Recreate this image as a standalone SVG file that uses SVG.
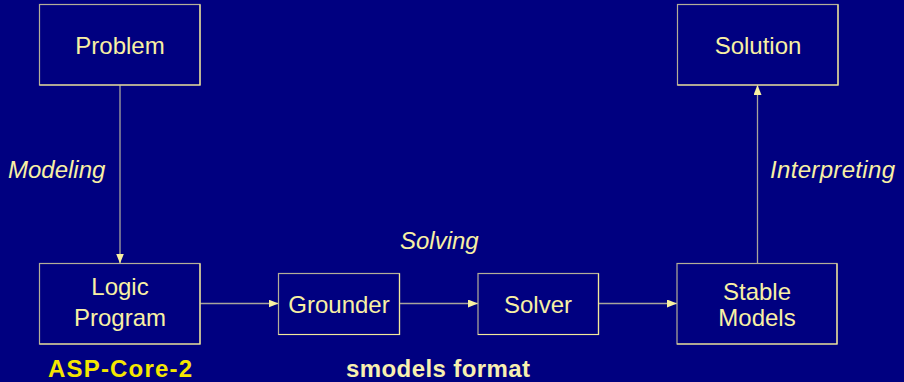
<svg xmlns="http://www.w3.org/2000/svg" width="904" height="382" viewBox="0 0 904 382">
  <style>
    .bg { fill: #000080; }
    .box { fill: none; stroke: #b4ae98; stroke-width: 1.2; }
    .hl { fill: none; stroke: #f2e89a; stroke-width: 1.2; }
    .t { font-family: "Liberation Sans", "DejaVu Sans", sans-serif; font-size: 24px; fill: #f8f0a4; text-anchor: middle; }
    .it { font-family: "Liberation Sans", "DejaVu Sans", sans-serif; font-size: 24px; font-style: italic; fill: #f8f0a4; }
    .lbl { font-family: "Liberation Sans", "DejaVu Sans", sans-serif; font-size: 24px; font-weight: bold; text-anchor: middle; }
    .edge { stroke: #a8a49c; stroke-width: 1.3; fill: none; marker-end: url(#ah); }
  </style>
  <defs>
    <marker id="ah" viewBox="0 0 10 8" refX="10" refY="4" markerWidth="10" markerHeight="8" markerUnits="userSpaceOnUse" orient="auto">
      <path d="M0,0 L10,4 L0,8 Z" fill="#f8f0a0"/>
    </marker>
  </defs>
  <rect class="bg" x="0" y="0" width="904" height="382"/>

  <g id="connectors">
    <line class="edge" x1="120" y1="85" x2="120" y2="263.5"/>
    <line class="edge" x1="200" y1="303.5" x2="278.5" y2="303.5"/>
    <line class="edge" x1="399.5" y1="303.5" x2="478" y2="303.5"/>
    <line class="edge" x1="598.5" y1="303.5" x2="677" y2="303.5"/>
    <line class="edge" x1="757.5" y1="263.5" x2="757.5" y2="85"/>
  </g>

  <g id="problem">
    <rect class="box" x="39.5" y="4.5" width="160.5" height="80.5"/>
    <path class="hl" d="M200,4.5 V85 H39.5"/>
    <text class="t" x="120" y="54">Problem</text>
  </g>
  <g id="logic-program">
    <rect class="box" x="39.5" y="263.5" width="160.5" height="80.5"/>
    <path class="hl" d="M200,263.5 V344 H39.5"/>
    <text class="t" x="120" y="295">Logic</text>
    <text class="t" x="120" y="326">Program</text>
  </g>
  <g id="grounder">
    <rect class="box" x="278.5" y="273.5" width="121" height="61"/>
    <path class="hl" d="M399.5,273.5 V334.5 H278.5"/>
    <text class="t" x="339" y="313">Grounder</text>
  </g>
  <g id="solver">
    <rect class="box" x="478" y="273.5" width="120.5" height="61"/>
    <path class="hl" d="M598.5,273.5 V334.5 H478"/>
    <text class="t" x="538" y="313">Solver</text>
  </g>
  <g id="stable-models">
    <rect class="box" x="677" y="263.5" width="160" height="80.5"/>
    <path class="hl" d="M837,263.5 V344 H677"/>
    <text class="t" x="757" y="300">Stable</text>
    <text class="t" x="757" y="326">Models</text>
  </g>
  <g id="solution">
    <rect class="box" x="677.5" y="4.5" width="160.5" height="80.5"/>
    <path class="hl" d="M838,4.5 V85 H677.5"/>
    <text class="t" x="758" y="54">Solution</text>
  </g>

  <g id="labels">
    <text class="it" x="8" y="178">Modeling</text>
    <text class="it" x="400" y="249">Solving</text>
    <text class="it" x="770" y="178" textLength="125" lengthAdjust="spacing">Interpreting</text>
    <text class="lbl" x="120" y="377" fill="#f5e600" textLength="144" lengthAdjust="spacing">ASP-Core-2</text>
    <text class="lbl" x="438" y="377" fill="#f8f0b0" textLength="184" lengthAdjust="spacing">smodels format</text>
  </g>
</svg>
